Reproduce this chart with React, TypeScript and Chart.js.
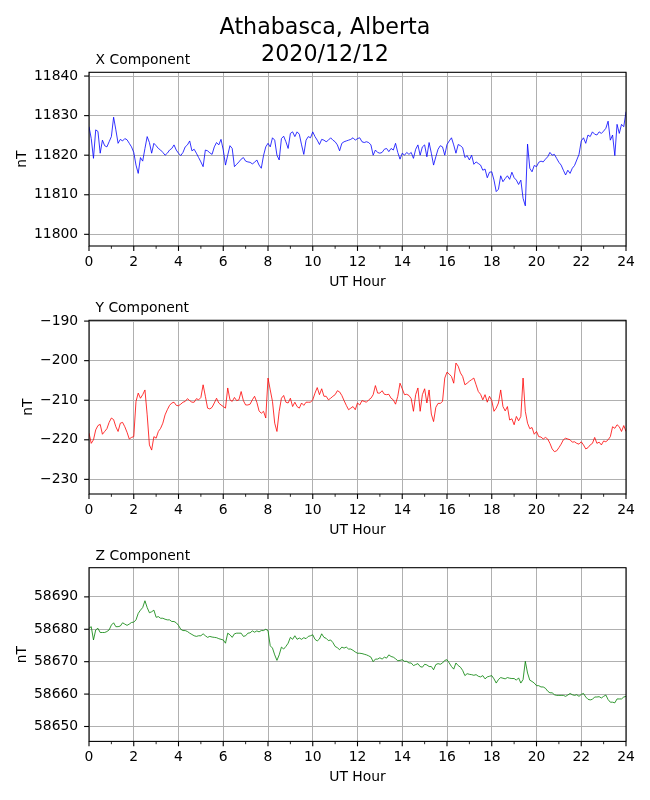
import { useEffect, useRef } from "react";
import { Chart, registerables } from "chart.js";

Chart.register(...registerables);

const FONT = "'DejaVu Sans', sans-serif";
const GRID = "#b0b0b0";

// one sample every 0.1 h, 0..24 UT
const xComponent = [
  11827.2, 11824.2, 11819.2, 11826.4, 11826, 11820.5, 11823.8, 11822.4, 11822.1, 11823.4,
  11824.7, 11829.6, 11826.4, 11823, 11824, 11823.6, 11824.2, 11823.9, 11823, 11822.1,
  11820.7, 11817.5, 11815.4, 11819.4, 11818.5, 11821.7, 11824.7, 11823.2, 11820.5, 11823,
  11822.4, 11821.7, 11821.3, 11820.7, 11820, 11820.5, 11821.3, 11821.7, 11822.6, 11821.3,
  11820.5, 11819.9, 11820.7, 11822.1, 11822.6, 11823.6, 11821.1, 11821.5, 11820.5, 11819.4,
  11818.3, 11817.1, 11821.3, 11821.1, 11820.6, 11820.2, 11822.1, 11823.2, 11822.6, 11824,
  11821.3, 11817.5, 11820, 11822.4, 11821.7, 11817.1, 11817.7, 11818.3, 11819, 11819.4,
  11818.5, 11818.3, 11818.2, 11817.8, 11818.2, 11818.8, 11817.5, 11816.7, 11819.9, 11822.1,
  11823, 11822.1, 11824.4, 11823.8, 11820, 11818.8, 11824.2, 11824.8, 11823.4, 11821.7,
  11825.5, 11825.9, 11824.7, 11825.9, 11825.3, 11822.6, 11820.2, 11823.8, 11824.7, 11824.4,
  11825.9, 11824.7, 11823.8, 11822.7, 11824, 11823.8, 11823.4, 11823.8, 11824.4, 11823.8,
  11823.4, 11822.6, 11821.1, 11823, 11823.4, 11823.6, 11823.8, 11824, 11824.4, 11823.8,
  11824.2, 11824.4, 11823.4, 11823.2, 11823.4, 11823.2, 11822.6, 11820, 11821.3, 11820.7,
  11820.5, 11820.7, 11821.5, 11821.7, 11820.9, 11821.7, 11821.3, 11823, 11820.7, 11819,
  11820.5, 11820, 11820.7, 11820.2, 11820.7, 11819.2, 11821.5, 11822.6, 11820, 11822.1,
  11822.6, 11819.6, 11823.2, 11820.5, 11817.5, 11819.6, 11821.5, 11822.4, 11822.1, 11820,
  11822.7, 11823.6, 11824.4, 11822.6, 11820.5, 11822.7, 11822.4, 11821.9, 11819.4, 11819.9,
  11818.8, 11820, 11817.7, 11818.3, 11817.9, 11817.5, 11816.2, 11816.5, 11814.3, 11815.7,
  11815.8, 11813.7, 11810.8, 11811.4, 11814.8, 11813.3, 11814.1, 11814.8, 11813.9, 11815.7,
  11814.3, 11813.7, 11812.6, 11813.7, 11809.1, 11807.2, 11822.8, 11816.7, 11815.8, 11817.4,
  11817.1, 11818.2, 11818.5, 11818.3, 11819, 11819.6, 11820.7, 11820, 11820.2, 11819.2,
  11818.2, 11817.5, 11816.2, 11815, 11816.2, 11815.4, 11816.7, 11817.4, 11818.8, 11820.2,
  11823.6, 11824.4, 11823, 11825.1, 11824.7, 11825.9, 11825.3, 11825.1, 11825.9, 11825.5,
  11826.1, 11826.8, 11828.6, 11823.8, 11825.1, 11819.9, 11827.8, 11825.5, 11827.8, 11827.2,
  11831,
];

const yComponent = [
  -218.3, -220.9, -220, -217.5, -216.4, -216.1, -218.6, -217.9, -217.2, -215.6,
  -214.5, -214.9, -216.7, -217.9, -215.8, -215.6, -216.7, -218.1, -219.8, -219.4,
  -219.2, -210.3, -208.2, -209.5, -208.6, -207.4, -213.7, -221.3, -222.6, -219.2,
  -219.6, -217.9, -217.1, -215.8, -213.7, -212.4, -211.3, -210.7, -210.5, -211.3,
  -211.4, -211, -210.5, -210.3, -209.6, -210.1, -210.5, -210.5, -209.6, -209.9,
  -209.3, -206.1, -209, -212, -212.2, -211.8, -210.7, -209.5, -210.7, -211.2,
  -211.6, -212, -206.9, -209.9, -210.3, -209.3, -210.1, -209.9, -207.8, -210.1,
  -211.2, -211.2, -211, -209.9, -209, -210.5, -212.7, -213.3, -212.8, -214.5,
  -204.4, -207.4, -210.3, -215.8, -217.9, -212.8, -209.5, -208.8, -210.5, -210.7,
  -209.5, -211.6, -210.5, -211.6, -212, -210.7, -211.3, -210.5, -210.5, -210.5,
  -209.9, -208.2, -206.8, -208.6, -207.1, -209, -209, -209.9, -209.5, -209,
  -208.6, -207.6, -207.9, -208.8, -210.1, -211.3, -212.4, -212, -211.6, -212.4,
  -210.7, -211.2, -210.1, -210.3, -210.5, -209.9, -209.5, -208.6, -206.3, -208.2,
  -208.2, -207.6, -208.5, -208.6, -208.5, -209.5, -209.9, -211, -209, -205.7,
  -207.1, -208.6, -208.5, -208.8, -209.6, -212.8, -208.6, -206.9, -212.8, -208.6,
  -207.1, -210.7, -207.4, -213.5, -215.4, -211.8, -210.8, -210.8, -210.3, -204.4,
  -202.9, -203.4, -204, -205.7, -200.6, -201.4, -203.1, -204, -206.1, -205.7,
  -205.2, -204.8, -204.4, -206.1, -207.8, -208.5, -209.9, -208.6, -210.5, -209,
  -210.1, -212.8, -212, -210.7, -207.4, -211.6, -212.7, -211.6, -215, -214.7,
  -216.2, -214.1, -215.2, -214.1, -204.4, -212.8, -215.8, -217.2, -216.9, -218.6,
  -217.9, -219.2, -219.3, -219.8, -219.4, -219.8, -220.9, -222.3, -223, -222.8,
  -222, -221.1, -220, -219.6, -219.8, -220, -220.6, -220.5, -220.9, -221.1,
  -220.5, -221.3, -222.3, -222, -221.3, -220.9, -219.4, -220.9, -220.6, -221.3,
  -220.3, -220.5, -220, -219.2, -216.7, -217.1, -216.2, -216.7, -217.9, -216.4,
  -217.9,
];

const zComponent = [
  58680.3, 58680.8, 58676.7, 58679.8, 58680.3, 58679, 58679, 58679, 58679.3, 58679.8,
  58681.3, 58682, 58680.8, 58680.8, 58681, 58682, 58681.6, 58681.2, 58681.6, 58682.1,
  58682.2, 58682.9, 58684.9, 58685.9, 58686.7, 58688.8, 58686.7, 58685.1, 58685.4, 58685.9,
  58683.7, 58683.9, 58683.4, 58683.4, 58683.1, 58682.9, 58682.9, 58682.4, 58682.4, 58682,
  58681.2, 58680, 58679.6, 58679.6, 58679.3, 58678.8, 58678.4, 58678, 58677.8, 58678,
  58678, 58678.6, 58678, 58677.5, 58677.8, 58677.6, 58677.5, 58677.4, 58677.1, 58676.9,
  58676.7, 58675.7, 58678.8, 58678.3, 58677.5, 58678.6, 58678.8, 58678.8, 58678.8, 58677.8,
  58678, 58678.8, 58678.9, 58679.5, 58679.1, 58679.5, 58679.2, 58679.6, 58679.6, 58680,
  58679.6, 58674.9, 58674.2, 58672.1, 58670.4, 58672.1, 58674.5, 58673.9, 58674.7, 58675.7,
  58677.5, 58676.9, 58678, 58676.9, 58677.3, 58676.9, 58677.4, 58677.1, 58677.8, 58678,
  58678.3, 58676.9, 58676.4, 58677, 58678.6, 58677.5, 58677.2, 58676.5, 58676.7, 58675.9,
  58674.7, 58674.3, 58673.7, 58674.5, 58674.2, 58674.5, 58673.9, 58673.9, 58673.5, 58673,
  58672.6, 58672.6, 58672.5, 58672.3, 58672.1, 58671.8, 58671.4, 58670, 58670.8, 58670.8,
  58671.2, 58670.8, 58671.4, 58671.1, 58672.1, 58671.6, 58671.4, 58670.9, 58670.3, 58670.4,
  58670.6, 58670.1, 58670.1, 58669.6, 58669.6, 58668.8, 58669.1, 58669.4, 58668.5, 58668.3,
  58669.2, 58669, 58668.5, 58668.5, 58667.5, 58669.1, 58669.4, 58669.2, 58669.6, 58670.4,
  58670.6, 58669.6, 58668.5, 58667.7, 58669.6, 58668.8, 58668.3, 58667.3, 58665.7, 58666.3,
  58666.1, 58666, 58665.8, 58666, 58665.5, 58665.3, 58665.7, 58664.7, 58665.3, 58665.5,
  58665.7, 58664.7, 58663.4, 58664.5, 58665.1, 58664.9, 58664.7, 58665.1, 58664.9, 58664.8,
  58664.8, 58664.3, 58665, 58663.4, 58664.5, 58670.1, 58666.5, 58664.3, 58663.9, 58663.4,
  58662.6, 58662.6, 58662.2, 58662.2, 58661.8, 58660.9, 58660.4, 58660.4, 58659.8, 58659.6,
  58659.6, 58659.6, 58659.6, 58659.3, 58659.7, 58660.2, 58659.8, 58659.6, 58659.8, 58659.3,
  58659.9, 58660.2, 58659.1, 58658.4, 58658.2, 58658.4, 58659.1, 58659.1, 58659.2, 58658.8,
  58659.3, 58659.7, 58658.3, 58657.5, 58657.5, 58657.3, 58658.5, 58658.5, 58658.5, 58659.1,
  58659.3,
];

const sampleHours = xComponent.map((_, i) => i / 10);

// tick positions
const hourTicks = [0, 1, 2, 3, 4, 5, 6, 7, 8, 9, 10, 11, 12, 13, 14, 15, 16, 17, 18, 19, 20, 21, 22, 23, 24];
const xTicks = [11800, 11810, 11820, 11830, 11840];
const yTicks = [-230, -220, -210, -200, -190];
const zTicks = [58650, 58660, 58670, 58680, 58690];

type Panel = {
  title: string;
  values: number[];
  ticks: number[];
  color: string;
  yMin: number;
  yMax: number;
  top: number;
  height: number;
  plotTop: number;
  plotBottom: number;
  axisLeft: number;
};

const panels: Panel[] = [
  { title: "X Component", values: xComponent, ticks: xTicks, color: "#0000ff", yMin: 11797.05, yMax: 11840.95, top: 0, height: 296, plotTop: 72.3, plotBottom: 246, axisLeft: 14.1 },
  { title: "Y Component", values: yComponent, ticks: yTicks, color: "#ff0000", yMin: -233.7, yMax: -189.8, top: 296, height: 248, plotTop: 320.3, plotBottom: 494, axisLeft: 19.7 },
  { title: "Z Component", values: zComponent, ticks: zTicks, color: "#008000", yMin: 58645.4, yMax: 58699.0, top: 544, height: 256, plotTop: 567.7, plotBottom: 741.4, axisLeft: 14.1 },
];

const tickFont = { family: FONT, size: 13.9 };

const frame = {
  id: "frame",
  afterDraw(chart: any) {
    const { ctx, chartArea: a, scales } = chart;
    ctx.save();
    ctx.strokeStyle = "#000";
    ctx.lineWidth = 1.1;
    ctx.strokeRect(a.left, a.top, a.right - a.left, a.bottom - a.top);
    scales.x.ticks.forEach((t: any) => {
      const px = scales.x.getPixelForValue(t.value);
      const major = t.value % 2 === 0;
      ctx.lineWidth = major ? 1.1 : 0.85;
      ctx.beginPath();
      ctx.moveTo(px, a.bottom);
      ctx.lineTo(px, a.bottom + (major ? 4.9 : 2.8));
      ctx.stroke();
    });
    ctx.lineWidth = 1.1;
    scales.y.ticks.forEach((t: any) => {
      const py = scales.y.getPixelForValue(t.value);
      ctx.beginPath();
      ctx.moveTo(a.left, py);
      ctx.lineTo(a.left - 4.9, py);
      ctx.stroke();
    });
    ctx.restore();
  },
};

function ComponentChart({ p }: { p: Panel }) {
  const canvasRef = useRef<HTMLCanvasElement | null>(null);

  useEffect(() => {
    if (!canvasRef.current) return;
    const chart = new Chart(canvasRef.current, {
      type: "line",
      data: {
        datasets: [
          {
            data: p.values.map((v, i) => ({ x: sampleHours[i], y: v })),
            borderColor: p.color,
            borderWidth: 0.8,
            pointRadius: 0,
            tension: 0,
            fill: false,
          },
        ],
      },
      options: {
        animation: false,
        responsive: false,
        events: [],
        layout: {
          padding: {
            left: p.axisLeft,
            right: 24,
            top: p.plotTop - p.top,
            bottom: p.top + p.height - 50 - p.plotBottom,
          },
        },
        plugins: { legend: { display: false }, tooltip: { enabled: false } },
        scales: {
          x: {
            type: "linear",
            min: 0,
            max: 24,
            bounds: "data",
            afterBuildTicks: (s: any) => {
              s.ticks = hourTicks.map((v) => ({ value: v }));
            },
            ticks: {
              autoSkip: false,
              maxRotation: 0,
              padding: 8,
              color: "#000",
              font: tickFont,
              callback: (v: any) => (Number(v) % 2 === 0 ? String(v) : ""),
            },
            grid: {
              drawTicks: false,
              lineWidth: 1,
              color: (c: any) => (c.tick && c.tick.value % 2 === 0 ? GRID : "rgba(0,0,0,0)"),
            },
            border: { display: false },
            title: { display: true, text: "UT Hour", color: "#000", font: tickFont, padding: { top: 0, bottom: 5.6 } },
            afterFit: (s: any) => {
              s.height = 50;
              s.paddingLeft = 0;
              s.paddingRight = 0;
            },
          },
          y: {
            type: "linear",
            min: p.yMin,
            max: p.yMax,
            bounds: "data",
            afterBuildTicks: (s: any) => {
              s.ticks = p.ticks.map((v) => ({ value: v }));
            },
            ticks: {
              padding: 10.8,
              color: "#000",
              font: tickFont,
              callback: (v: any) => (Number(v) < 0 ? "\u2212" + Math.abs(Number(v)) : String(v)),
            },
            grid: { drawTicks: false, lineWidth: 1, color: GRID },
            border: { display: false },
            title: { display: true, text: "nT", color: "#000", font: tickFont, padding: 0 },
            afterFit: (s: any) => {
              s.width = 89 - p.axisLeft;
              s.paddingTop = 0;
              s.paddingBottom = 0;
            },
          },
        },
      },
      plugins: [frame],
    });
    return () => chart.destroy();
  }, [p]);

  return (
    <>
      <canvas
        ref={canvasRef}
        width={650}
        height={p.height}
        style={{ position: "absolute", left: 0, top: p.top, display: "block" }}
      />
      <div
        style={{
          position: "absolute",
          left: 95.5,
          top: p.plotTop - 8.3 - 12.8,
          fontFamily: FONT,
          fontSize: 13.9,
          lineHeight: "16px",
          whiteSpace: "nowrap",
          color: "#000",
        }}
      >
        {p.title}
      </div>
    </>
  );
}

export default function App() {
  return (
    <div style={{ position: "absolute", left: 0, top: 0, width: 650, height: 800, background: "#fff" }}>
      {panels.map((p) => (
        <ComponentChart key={p.title} p={p} />
      ))}
      <div
        style={{
          position: "absolute",
          left: 0,
          top: 12.5,
          width: 650,
          textAlign: "center",
          fontFamily: FONT,
          fontSize: 22.2,
          lineHeight: "27.7px",
          color: "#000",
        }}
      >
        Athabasca, Alberta
        <br />
        2020/12/12
      </div>
    </div>
  );
}
